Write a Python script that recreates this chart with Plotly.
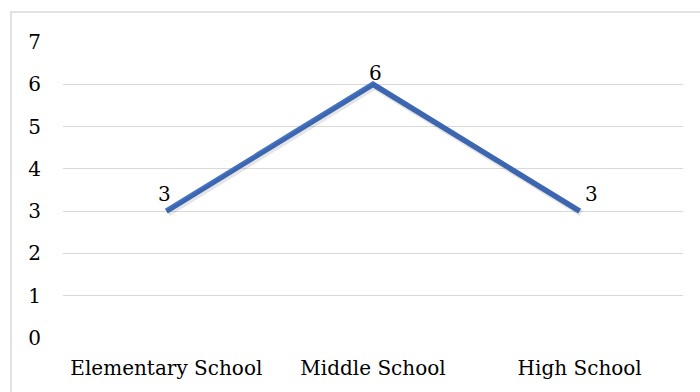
import plotly.graph_objects as go

categories = ["Elementary School", "Middle School", "High School"]
values = [3, 6, 3]
y_ticks = [0, 1, 2, 3, 4, 5, 6, 7]

FONT = "DejaVu Serif"
FS = 20
L, R, T, B = 63, 17, 42, 54
W, H = 700, 392
pw, ph = W - L - R, H - T - B
xr = [-0.5, 2.5]
yr = [0, 7]
dx = 1.5 * (xr[1] - xr[0]) / pw
dy = 2 * (yr[1] - yr[0]) / ph

fig = go.Figure()
# soft shadow on shifted overlay axes
fig.add_trace(go.Scatter(x=categories, y=values, mode="lines", xaxis="x2", yaxis="y2",
                         line=dict(color="rgba(0,0,0,0.10)", width=7), hoverinfo="skip",
                         showlegend=False))
fig.add_trace(go.Scatter(x=categories, y=values, mode="lines",
                         line=dict(color="#4472C4", width=5.5), showlegend=False))

shifts = [(-2, 3), (2, -3), (12, 3)]
for c, v, (xs, ys) in zip(categories, values, shifts):
    fig.add_annotation(x=c, y=v, text=str(v), showarrow=False, xanchor="center",
                       yanchor="bottom", xshift=xs, yshift=ys,
                       font=dict(family=FONT, size=FS, color="black"))

fig.update_layout(
    width=W, height=H, margin=dict(l=L, r=R, t=T, b=B),
    paper_bgcolor="white", plot_bgcolor="white",
    font=dict(family=FONT, size=FS, color="black"),
    xaxis=dict(type="category", range=xr, showgrid=False, zeroline=False, showline=False,
               ticks="", ticklabelstandoff=16, tickfont=dict(family=FONT, size=FS)),
    yaxis=dict(range=yr, tickvals=y_ticks, showgrid=True, gridcolor="#d9d9d9", gridwidth=1,
               zeroline=False, showline=False, ticks="", ticklabelstandoff=21,
               tickfont=dict(family=FONT, size=FS)),
    xaxis2=dict(type="category", overlaying="x", range=[xr[0] - dx, xr[1] - dx], visible=False),
    yaxis2=dict(overlaying="y", range=[yr[0] + dy, yr[1] + dy], visible=False),
    shapes=[dict(type="rect", xref="paper", yref="paper",
                 x0=(11 - L) / pw, x1=(710 - L) / pw,
                 y0=(H - B - 400) / ph, y1=(H - B - 12) / ph,
                 line=dict(color="#d9d9d9", width=1.5), layer="below")],
)

fig.write_html("out.html")
